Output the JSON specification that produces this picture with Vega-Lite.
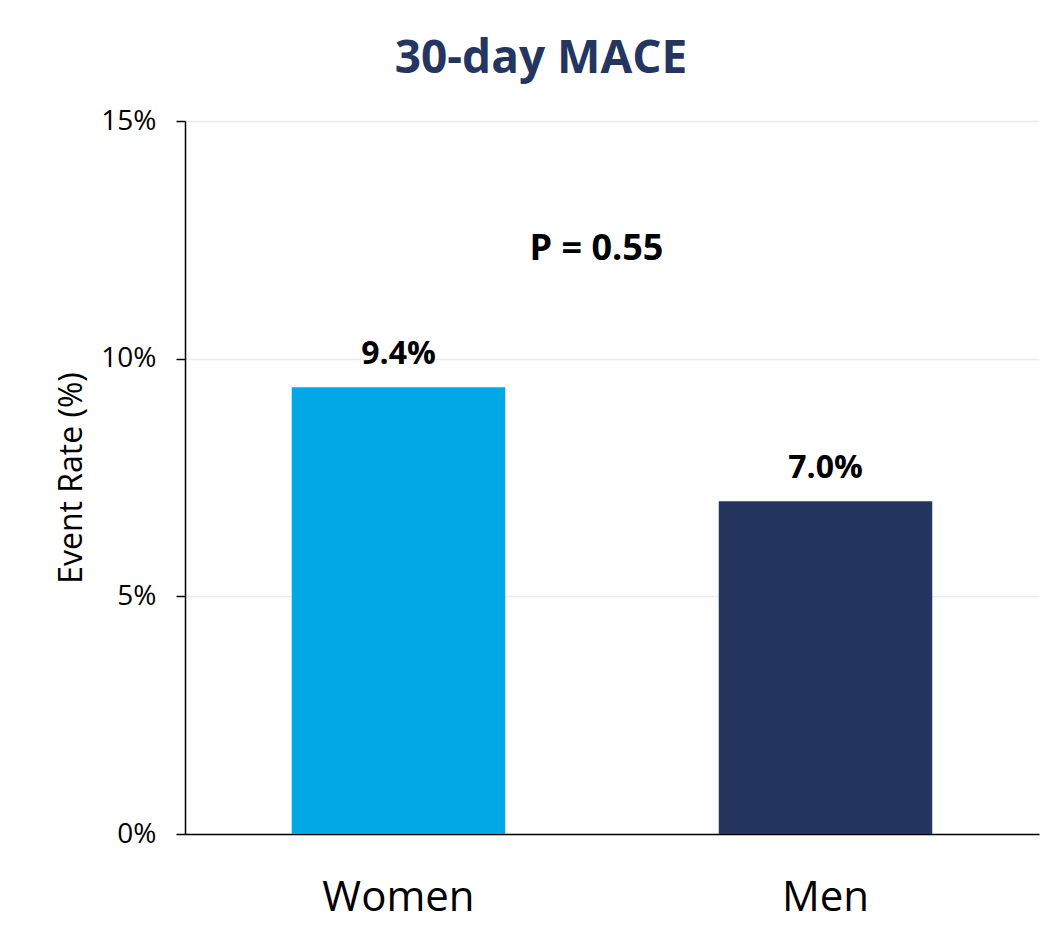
{
  "$schema": "https://vega.github.io/schema/vega-lite/v6.json",
  "width": 854,
  "height": 713,
  "autosize": {"type": "none"},
  "padding": {"left": 185, "top": 121, "right": 20, "bottom": 97},
  "background": "white",
  "title": {
    "text": "30-day MACE",
    "font": "Open Sans",
    "fontSize": 46,
    "fontWeight": "bold",
    "color": "#243660",
    "anchor": "middle",
    "dx": -71,
    "offset": 24
  },
  "datasets": {
    "bars": [
      {"group": "Women", "rate": 0.094, "label": "9.4%"},
      {"group": "Men", "rate": 0.070, "label": "7.0%"}
    ],
    "note": [
      {"group": "Women", "rate": 0.123, "label": "P = 0.55"}
    ]
  },
  "config": {
    "view": {"stroke": null},
    "font": "Open Sans"
  },
  "layer": [
    {
      "data": {"name": "bars"},
      "mark": {"type": "bar"},
      "encoding": {
        "x": {
          "field": "group",
          "type": "nominal",
          "sort": ["Women", "Men"],
          "scale": {"paddingInner": 0.5, "paddingOuter": 0.25},
          "axis": {
            "title": null,
            "labelAngle": 0,
            "labelFontSize": 42,
            "labelColor": "black",
            "labelPadding": 63,
            "labelBaseline": "middle",
            "ticks": false,
            "domainColor": "black",
            "domainWidth": 1.5,
            "grid": false
          }
        },
        "y": {
          "field": "rate",
          "type": "quantitative",
          "scale": {"domain": [0, 0.15], "nice": false},
          "axis": {
            "title": "Event Rate (%)",
            "titleFontSize": 32,
            "titleFontWeight": "normal",
            "titleColor": "black",
            "titlePadding": 12,
            "format": ".0%",
            "values": [0, 0.05, 0.1, 0.15],
            "labelFontSize": 28,
            "labelColor": "black",
            "labelPadding": 20,
            "tickColor": "black",
            "tickSize": 9,
            "tickWidth": 1.5,
            "domainColor": "black",
            "domainWidth": 1.5,
            "gridColor": "#EBEBEB",
            "gridWidth": 1.5
          }
        },
        "color": {
          "field": "group",
          "type": "nominal",
          "scale": {"domain": ["Women", "Men"], "range": ["#00A8E6", "#243660"]},
          "legend": null
        }
      }
    },
    {
      "data": {"name": "bars"},
      "mark": {"type": "text", "fontSize": 32, "fontWeight": "bold", "color": "black", "baseline": "middle", "dy": -33},
      "encoding": {
        "x": {"field": "group", "type": "nominal", "sort": ["Women", "Men"]},
        "y": {"field": "rate", "type": "quantitative"},
        "text": {"field": "label"}
      }
    },
    {
      "data": {"name": "note"},
      "mark": {"type": "text", "fontSize": 36, "fontWeight": "bold", "color": "black", "baseline": "middle", "dx": 198},
      "encoding": {
        "x": {"field": "group", "type": "nominal", "sort": ["Women", "Men"]},
        "y": {"field": "rate", "type": "quantitative"},
        "text": {"field": "label"}
      }
    }
  ]
}
